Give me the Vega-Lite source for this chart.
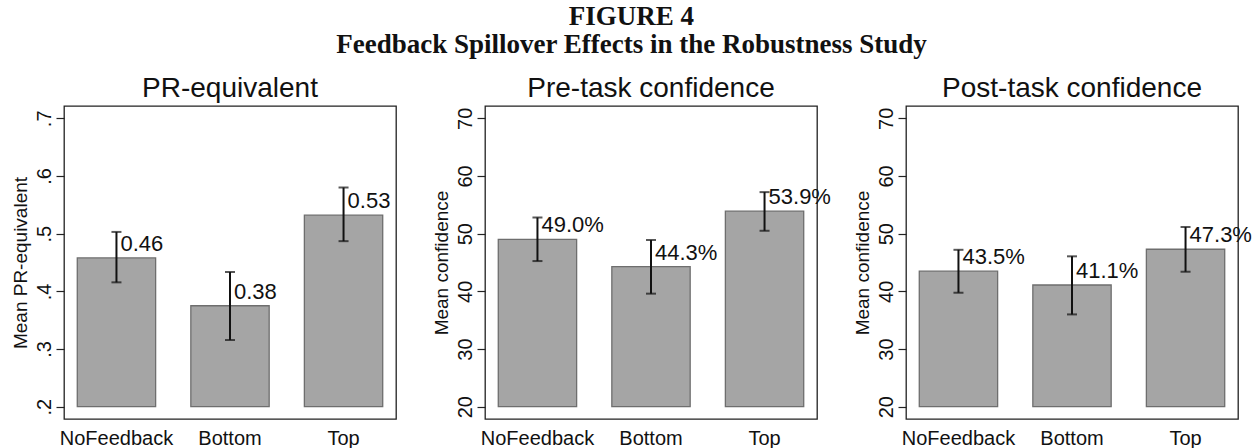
{
  "$schema": "https://vega.github.io/schema/vega-lite/v6.json",
  "padding": {"left": 10, "top": 3, "right": 4, "bottom": 0},
  "autosize": {"type": "pad"},
  "bounds": "flush",
  "spacing": 89,
  "background": "white",
  "title": {
    "text": "FIGURE 4",
    "subtitle": "Feedback Spillover Effects in the Robustness Study",
    "font": "Liberation Serif",
    "fontSize": 27,
    "fontWeight": "bold",
    "color": "#111",
    "subtitleFont": "Liberation Serif",
    "subtitleFontSize": 27,
    "subtitleFontWeight": "bold",
    "subtitleColor": "#111",
    "subtitlePadding": 1,
    "anchor": "middle",
    "frame": "bounds",
    "offset": 15
  },
  "config": {
    "view": {"stroke": "#222", "strokeWidth": 1.3},
    "font": "Liberation Sans"
  },
  "data": {
    "values": [
      {"panel": "PR", "group": "NoFeedback", "mean": 0.458, "lo": 0.4156, "hi": 0.503, "label": "0.46"},
      {"panel": "PR", "group": "Bottom", "mean": 0.375, "lo": 0.3156, "hi": 0.4335, "label": "0.38"},
      {"panel": "PR", "group": "Top", "mean": 0.532, "lo": 0.487, "hi": 0.58, "label": "0.53"},
      {"panel": "Pre", "group": "NoFeedback", "mean": 49.0, "lo": 45.25, "hi": 52.8, "label": "49.0%"},
      {"panel": "Pre", "group": "Bottom", "mean": 44.3, "lo": 39.6, "hi": 48.9, "label": "44.3%"},
      {"panel": "Pre", "group": "Top", "mean": 53.9, "lo": 50.5, "hi": 57.2, "label": "53.9%"},
      {"panel": "Post", "group": "NoFeedback", "mean": 43.5, "lo": 39.76, "hi": 47.2, "label": "43.5%"},
      {"panel": "Post", "group": "Bottom", "mean": 41.1, "lo": 36.0, "hi": 46.07, "label": "41.1%"},
      {"panel": "Post", "group": "Top", "mean": 47.3, "lo": 43.4, "hi": 51.15, "label": "47.3%"}
    ]
  },
  "hconcat": [
    {
      "width": 332,
      "height": 313,
      "title": {"text": "PR-equivalent", "font": "Liberation Sans", "fontSize": 28, "fontWeight": "normal", "color": "#111", "baseline": "alphabetic", "offset": -19, "frame": "group"},
      "transform": [{"filter": "datum.panel === 'PR'"}],
      "encoding": {
        "x": {"field": "group", "type": "nominal", "sort": ["NoFeedback", "Bottom", "Top"],
          "scale": {"paddingInner": 0.31, "paddingOuter": 0.117},
          "axis": {"title": null, "labelAngle": 0, "labelFontSize": 20, "labelColor": "#111", "ticks": false, "tickSize": 0, "domain": false, "labelPadding": 9, "labelBaseline": "top"}}
      },
      "layer": [
        {
          "mark": {"type": "bar", "fill": "#a5a5a5", "stroke": "#6e6e6e", "strokeWidth": 1.3},
          "encoding": {
            "y": {"field": "mean", "type": "quantitative", "scale": {"domain": [0.1787, 0.7213], "nice": false, "zero": false},
              "axis": {"title": "Mean PR-equivalent", "values": [0.2, 0.3, 0.4, 0.5, 0.6, 0.7], "labelExpr": "replace(format(datum.value, '.1f'), '0.', '.')", "labelAngle": -90, "labelAlign": "center", "labelBaseline": "bottom", "labelFontSize": 20, "labelColor": "#111", "labelPadding": 2, "tickSize": 8, "tickColor": "#222", "tickWidth": 1.2, "domain": false, "grid": false, "titleFontSize": 19, "titleFontWeight": "normal", "titleColor": "#111", "titlePadding": 4}},
            "y2": {"datum": 0.2}
          }
        },
        {
          "mark": {"type": "rule", "strokeWidth": 2, "color": "#111"},
          "encoding": {"y": {"field": "lo", "type": "quantitative"}, "y2": {"field": "hi"}}
        },
        {
          "mark": {"type": "tick", "thickness": 2, "size": 10, "color": "#111"},
          "encoding": {"y": {"field": "hi", "type": "quantitative"}}
        },
        {
          "mark": {"type": "tick", "thickness": 2, "size": 10, "color": "#111"},
          "encoding": {"y": {"field": "lo", "type": "quantitative"}}
        },
        {
          "mark": {"type": "text", "align": "left", "baseline": "alphabetic", "dx": 4, "dy": -7, "fontSize": 22, "color": "#111"},
          "encoding": {"y": {"field": "mean", "type": "quantitative"}, "text": {"field": "label"}}
        }
      ]
    },
    {
      "width": 332,
      "height": 313,
      "title": {"text": "Pre-task confidence", "font": "Liberation Sans", "fontSize": 28, "fontWeight": "normal", "color": "#111", "baseline": "alphabetic", "offset": -19, "frame": "group"},
      "transform": [{"filter": "datum.panel === 'Pre'"}],
      "encoding": {
        "x": {"field": "group", "type": "nominal", "sort": ["NoFeedback", "Bottom", "Top"],
          "scale": {"paddingInner": 0.31, "paddingOuter": 0.117},
          "axis": {"title": null, "labelAngle": 0, "labelFontSize": 20, "labelColor": "#111", "ticks": false, "tickSize": 0, "domain": false, "labelPadding": 9, "labelBaseline": "top"}}
      },
      "layer": [
        {
          "mark": {"type": "bar", "fill": "#a5a5a5", "stroke": "#6e6e6e", "strokeWidth": 1.3},
          "encoding": {
            "y": {"field": "mean", "type": "quantitative", "scale": {"domain": [17.87, 72.13], "nice": false, "zero": false},
              "axis": {"title": "Mean confidence", "values": [20, 30, 40, 50, 60, 70], "format": "d", "labelAngle": -90, "labelAlign": "center", "labelBaseline": "bottom", "labelFontSize": 20, "labelColor": "#111", "labelPadding": 2, "tickSize": 8, "tickColor": "#222", "tickWidth": 1.2, "domain": false, "grid": false, "titleFontSize": 19, "titleFontWeight": "normal", "titleColor": "#111", "titlePadding": 4}},
            "y2": {"datum": 20}
          }
        },
        {
          "mark": {"type": "rule", "strokeWidth": 2, "color": "#111"},
          "encoding": {"y": {"field": "lo", "type": "quantitative"}, "y2": {"field": "hi"}}
        },
        {
          "mark": {"type": "tick", "thickness": 2, "size": 10, "color": "#111"},
          "encoding": {"y": {"field": "hi", "type": "quantitative"}}
        },
        {
          "mark": {"type": "tick", "thickness": 2, "size": 10, "color": "#111"},
          "encoding": {"y": {"field": "lo", "type": "quantitative"}}
        },
        {
          "mark": {"type": "text", "align": "left", "baseline": "alphabetic", "dx": 4, "dy": -7, "fontSize": 22, "color": "#111"},
          "encoding": {"y": {"field": "mean", "type": "quantitative"}, "text": {"field": "label"}}
        }
      ]
    },
    {
      "width": 332,
      "height": 313,
      "title": {"text": "Post-task confidence", "font": "Liberation Sans", "fontSize": 28, "fontWeight": "normal", "color": "#111", "baseline": "alphabetic", "offset": -19, "frame": "group"},
      "transform": [{"filter": "datum.panel === 'Post'"}],
      "encoding": {
        "x": {"field": "group", "type": "nominal", "sort": ["NoFeedback", "Bottom", "Top"],
          "scale": {"paddingInner": 0.31, "paddingOuter": 0.117},
          "axis": {"title": null, "labelAngle": 0, "labelFontSize": 20, "labelColor": "#111", "ticks": false, "tickSize": 0, "domain": false, "labelPadding": 9, "labelBaseline": "top"}}
      },
      "layer": [
        {
          "mark": {"type": "bar", "fill": "#a5a5a5", "stroke": "#6e6e6e", "strokeWidth": 1.3},
          "encoding": {
            "y": {"field": "mean", "type": "quantitative", "scale": {"domain": [17.87, 72.13], "nice": false, "zero": false},
              "axis": {"title": "Mean confidence", "values": [20, 30, 40, 50, 60, 70], "format": "d", "labelAngle": -90, "labelAlign": "center", "labelBaseline": "bottom", "labelFontSize": 20, "labelColor": "#111", "labelPadding": 2, "tickSize": 8, "tickColor": "#222", "tickWidth": 1.2, "domain": false, "grid": false, "titleFontSize": 19, "titleFontWeight": "normal", "titleColor": "#111", "titlePadding": 4}},
            "y2": {"datum": 20}
          }
        },
        {
          "mark": {"type": "rule", "strokeWidth": 2, "color": "#111"},
          "encoding": {"y": {"field": "lo", "type": "quantitative"}, "y2": {"field": "hi"}}
        },
        {
          "mark": {"type": "tick", "thickness": 2, "size": 10, "color": "#111"},
          "encoding": {"y": {"field": "hi", "type": "quantitative"}}
        },
        {
          "mark": {"type": "tick", "thickness": 2, "size": 10, "color": "#111"},
          "encoding": {"y": {"field": "lo", "type": "quantitative"}}
        },
        {
          "mark": {"type": "text", "align": "left", "baseline": "alphabetic", "dx": 4, "dy": -7, "fontSize": 22, "color": "#111"},
          "encoding": {"y": {"field": "mean", "type": "quantitative"}, "text": {"field": "label"}}
        }
      ]
    }
  ]
}
